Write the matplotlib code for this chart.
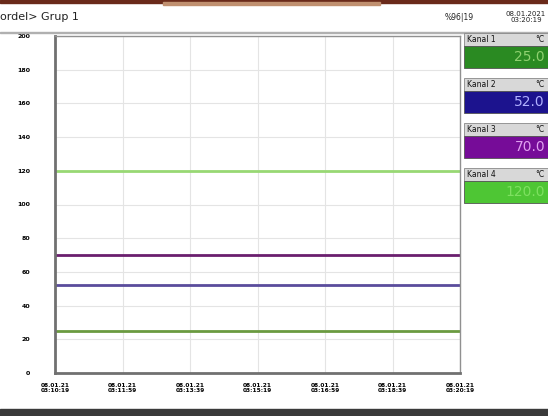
import matplotlib.pyplot as plt
from matplotlib.patches import Rectangle

# channel readings shown on the recorder screen
channels = ['Kanal 1', 'Kanal 2', 'Kanal 3', 'Kanal 4']
values = [25.0, 52.0, 70.0, 120.0]
line_colors = ['#6a9a40', '#5a4c9c', '#6a1e6e', '#98d874']
box_colors = ['#2a8a22', '#1c138e', '#760c98', '#4ec634']
text_colors = ['#8fd070', '#b0b0ff', '#e0a0f0', '#7ee060']

times = ['03:10:19', '03:11:59', '03:13:39', '03:15:19', '03:16:59', '03:18:39', '03:20:19']
date = '08.01.21'
y_ticks = [0, 20, 40, 60, 80, 100, 120, 140, 160, 180, 200]

fig = plt.figure(figsize=(5.48, 4.16), dpi=100)
W, H = 548, 416

def fx(x):
    return x / W

def fy(y):
    return 1 - y / H

# top frame with tab and bottom bar
fig.patches.append(Rectangle((0, fy(3)), 1, 3 / H, transform=fig.transFigure, color='#6a2a1a'))
fig.patches.append(Rectangle((fx(163), fy(5)), fx(217), 3 / H, transform=fig.transFigure, color='#c09070'))
fig.patches.append(Rectangle((0, 0), 1, 7 / H, transform=fig.transFigure, color='#3a3a3a'))
fig.patches.append(Rectangle((0, fy(33)), 1, 1 / H, transform=fig.transFigure, color='#b0b0b0'))

fig.text(fx(0), fy(17), 'ordel> Grup 1', fontsize=8, va='center', ha='left', color='#222222')
fig.text(fx(474), fy(17), '%96|19', fontsize=5.5, va='center', ha='right', color='#222222')
fig.text(fx(546), fy(17), '08.01.2021\n03:20:19', fontsize=5, va='center', ha='right',
         color='#222222', linespacing=1.0, multialignment='center')

ax = fig.add_axes([fx(55), fy(373), fx(460 - 55), (373 - 36) / H])
x = list(range(len(times)))
for v, c in zip(values, line_colors):
    ax.plot([x[0], x[-1]], [v, v], color=c, lw=2, solid_capstyle='butt')

ax.set_xlim(x[0], x[-1])
ax.set_ylim(0, 200)
ax.set_yticks(y_ticks)
ax.set_yticklabels([str(t) for t in y_ticks], fontsize=4.5, fontweight='bold')
ax.set_xticks(x)
ax.set_xticklabels([date + '\n' + t for t in times], fontsize=4.2, fontweight='bold', linespacing=1.1)
ax.tick_params(axis='y', length=0, pad=18)
ax.tick_params(axis='x', length=0, pad=7)
ax.grid(True, color='#e4e4e4', lw=0.8)
for side in ['left', 'bottom']:
    ax.spines[side].set_color('#707070')
    ax.spines[side].set_linewidth(2)
for side in ['top', 'right']:
    ax.spines[side].set_color('#909090')
    ax.spines[side].set_linewidth(1)

# channel value panels on the right
for i, name in enumerate(channels):
    top = 33 + i * 45
    fig.patches.append(Rectangle((fx(464), fy(top + 13)), fx(84), 13 / H, transform=fig.transFigure,
                                 facecolor='#d8d8d8', edgecolor='#888888', lw=0.6))
    fig.patches.append(Rectangle((fx(464), fy(top + 35)), fx(84), 22 / H, transform=fig.transFigure,
                                 facecolor=box_colors[i], edgecolor='#555555', lw=0.6))
    fig.text(fx(467), fy(top + 6.5), name, fontsize=5.5, va='center', ha='left', color='#111111')
    fig.text(fx(544), fy(top + 6.5), '°C', fontsize=5.5, va='center', ha='right', color='#111111')
    fig.text(fx(545), fy(top + 24), '%.1f' % values[i], fontsize=10, va='center', ha='right',
             color=text_colors[i])

fig.savefig('out.png', dpi=100)
